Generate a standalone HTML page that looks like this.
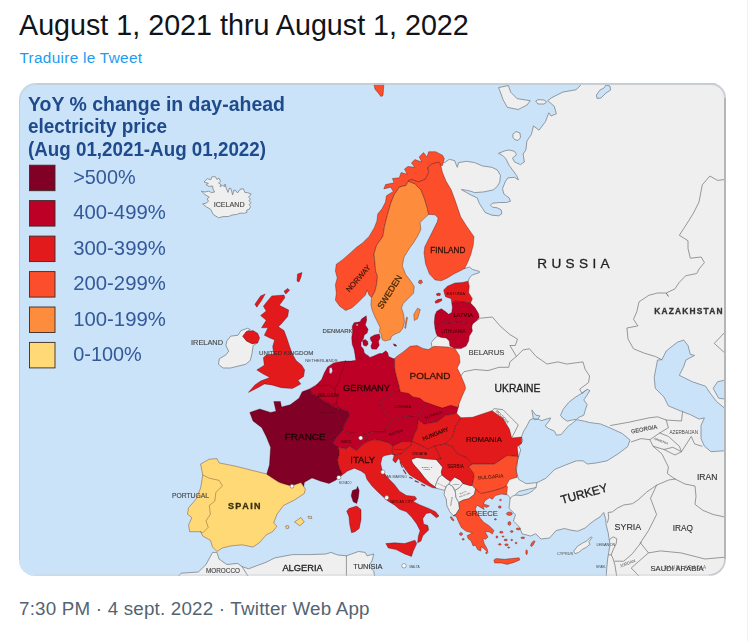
<!DOCTYPE html>
<html lang="fr"><head><meta charset="utf-8"><title>Tweet</title>
<style>
html,body{margin:0;padding:0;background:#fff;}
body{width:752px;height:641px;position:relative;overflow:hidden;font-family:"Liberation Sans",sans-serif;}
.title{position:absolute;left:19px;top:7px;font-size:28.7px;line-height:36px;color:#0f1419;white-space:nowrap;}
.tr{position:absolute;left:19.5px;top:47.8px;font-size:15.4px;line-height:20px;color:#1d9bf0;white-space:nowrap;letter-spacing:0.28px;}
.card{position:absolute;left:19px;top:83px;width:707px;height:492.5px;border-radius:17px 15px 17px 16px;overflow:hidden;background:#cae3f8;}
.card svg{position:absolute;left:0;top:0;display:block;}
.card svg .map{filter:blur(0.4px);}
.foot{position:absolute;left:19px;top:597px;font-size:18.8px;line-height:24px;color:#536471;white-space:nowrap;letter-spacing:0.2px;}
.vline{position:absolute;left:746.8px;top:0;width:1.4px;height:641px;background:#f0f1f2;}
svg text{font-family:"Liberation Sans",sans-serif;}

</style></head><body>
<div class="title">August 1, 2021 thru August 1, 2022</div>
<div class="tr">Traduire le Tweet</div>
<div class="vline"></div>
<div class="card">
<svg width="707" height="492.5" viewBox="19 83 707 492.5">
<rect x="19" y="83" width="707" height="493" fill="#cae3f8"/>
<g class="map">
<g fill="#efefef" stroke="#7c838a" stroke-width="0.8" stroke-linejoin="round">
<path d="M411.0 459.5 L416.7 457.4 L426.5 458.8 L436.3 459.5 L439.2 463.0 L442.7 467.2 L441.3 472.1 L442.0 475.0 L438.5 477.8 L436.3 483.4 L435.0 486.9 L430.0 483.4 L425.1 478.5 L420.2 472.1 L415.3 466.5 L412.5 463.0Z"/>
<path d="M436.3 483.4 L438.5 477.8 L442.0 475.0 L446.2 478.5 L450.4 481.3 L449.0 484.1 L446.2 486.2 L444.8 490.4 L439.2 489.0 L436.3 488.3 L435.0 486.9Z"/>
<path d="M444.8 490.4 L446.2 486.2 L449.0 484.1 L452.5 486.2 L455.3 491.8 L456.0 497.4 L458.8 502.5 L459.5 508.7 L456.0 514.3 L453.2 515.7 L449.7 511.5 L446.9 505.8 L446.2 498.8 L444.0 494.6Z"/>
<path d="M450.4 481.3 L454.6 477.0 L460.2 479.9 L463.0 483.4 L459.5 487.6 L455.3 490.4 L452.5 486.2 L449.0 484.1Z"/>
<path d="M455.3 490.4 L459.5 487.6 L463.0 483.4 L470.0 485.5 L472.2 485.5 L475.7 489.0 L474.3 494.6 L468.7 498.8 L463.0 500.2 L458.8 502.5 L456.0 497.4 L455.3 491.8Z"/>
<path d="M438.0 160.0 L444.7 162.6 L449.3 159.3 L454.6 160.6 L457.3 167.3 L458.6 162.6 L466.6 161.3 L474.6 162.6 L482.6 166.0 L491.9 167.3 L497.2 169.9 L500.5 175.3 L499.8 181.9 L497.2 186.6 L493.2 189.9 L483.9 191.9 L474.6 192.6 L470.6 191.2 L464.6 189.9 L461.3 189.6 L466.6 192.6 L471.3 195.2 L477.2 197.9 L479.2 203.2 L482.6 208.5 L485.2 212.5 L491.9 215.2 L498.5 215.8 L501.8 213.8 L501.2 209.8 L497.2 207.8 L492.5 207.2 L490.5 205.2 L492.5 203.2 L499.8 202.5 L506.5 202.5 L510.5 201.2 L509.1 197.9 L503.8 193.9 L502.5 188.6 L505.2 181.9 L507.8 177.9 L514.5 177.3 L518.5 179.9 L516.5 175.3 L512.5 169.9 L509.1 165.3 L505.8 158.6 L502.5 155.3 L498.5 153.3 L505.2 150.7 L509.1 150.0 L514.5 151.3 L516.5 154.7 L512.5 158.0 L514.5 162.0 L520.5 164.6 L524.4 162.0 L523.1 154.0 L525.9 149.9 L526.9 141.0 L531.3 134.6 L533.5 125.9 L539.0 130.2 L545.5 121.5 L548.8 112.8 L551.0 116.0 L556.4 113.8 L554.2 106.2 L547.7 100.7 L552.0 97.5 L563.0 92.0 L576.0 89.8 L580.4 85.5 L581.0 83.0 L727.0 83.0 L727.0 577.0 L606.2 577.0 L606.8 567.4 L607.5 559.9 L608.7 552.4 L610.0 544.9 L609.3 539.9 L608.1 532.5 L606.2 525.0 L605.6 518.7 L603.7 512.5 L600.0 516.9 L595.0 520.0 L590.0 523.7 L585.0 528.1 L577.5 531.2 L570.0 530.0 L564.5 528.5 L556.0 530.6 L549.6 538.0 L541.0 539.0 L535.7 533.8 L530.4 536.0 L522.0 533.8 L519.8 527.4 L513.4 521.0 L515.5 514.7 L509.0 508.3 L510.2 497.7 L507.6 494.8 L480.0 480.0 L440.0 420.0 L432.0 347.0 L431.2 342.8 L434.0 339.0 L437.5 336.1 L455.0 330.0 L468.2 281.5 L469.3 278.0 L472.4 274.9 L479.4 272.6 L479.4 271.4 L472.4 269.4 L469.3 267.0 L464.6 268.6 L450.0 250.0 L432.0 200.0Z"/>
<path d="M178.0 577.0 L181.0 573.2 L198.4 572.0 L206.0 564.5 L212.6 552.4 L217.0 552.4 L219.0 559.0 L226.8 564.5 L237.7 563.4 L242.0 566.6 L248.6 568.8 L257.3 565.5 L266.0 562.3 L274.8 557.9 L292.3 554.6 L309.7 554.6 L325.8 554.0 L330.9 552.4 L337.8 555.0 L346.4 555.8 L351.5 554.0 L358.4 551.5 L365.2 552.4 L367.0 555.8 L373.8 554.0 L372.0 561.0 L368.7 566.0 L373.8 571.3 L374.7 577.0Z"/>
<path d="M226.9 340.9 L230.6 336.2 L238.1 335.2 L240.9 330.6 L247.5 328.3 L250.3 329.6 L246.5 331.5 L242.8 336.2 L246.5 340.9 L252.1 343.7 L257.8 342.7 L253.1 345.5 L252.1 353.0 L250.3 360.5 L245.6 364.3 L238.1 366.1 L230.6 368.0 L223.1 368.0 L218.4 364.3 L219.4 358.7 L225.9 354.9 L228.7 351.2 L225.9 345.5Z"/>
<path d="M204.0 182.0 L207.3 178.6 L210.8 179.8 L211.8 176.9 L215.3 176.6 L216.8 179.4 L219.0 178.2 L220.6 181.3 L218.6 183.0 L221.0 184.6 L220.0 186.6 L222.5 185.4 L224.6 186.6 L225.0 184.0 L226.4 188.6 L228.0 192.4 L229.5 188.0 L231.0 188.6 L232.6 195.0 L234.0 190.0 L236.0 190.8 L237.5 193.0 L240.0 189.4 L243.2 188.6 L245.0 192.6 L247.2 192.6 L251.2 194.0 L248.5 197.2 L250.6 199.0 L248.8 200.6 L251.2 202.6 L249.0 204.6 L250.6 206.6 L249.2 209.2 L246.6 210.2 L247.0 212.4 L244.5 213.2 L240.0 213.2 L236.5 214.5 L232.0 215.0 L228.6 216.5 L223.0 216.6 L218.6 217.8 L213.3 214.5 L210.6 209.2 L206.5 207.0 L202.6 203.9 L206.0 203.2 L208.6 201.2 L207.0 199.0 L209.3 197.2 L205.0 194.6 L201.3 191.2 L205.0 192.0 L208.6 191.2 L211.6 192.6 L214.6 192.0 L213.0 189.0 L212.6 186.0 L209.0 186.4 L206.0 184.6 L208.4 183.4Z"/>
<path d="M498.6 87.6 L508.4 85.5 L510.6 92.0 L517.0 98.6 L530.2 100.7 L527.0 105.0 L518.2 109.5 L507.3 107.3 L503.0 99.6 L500.7 93.0Z"/>
<path d="M535.7 101.0 L538.0 99.6 L544.0 100.0 L546.6 102.0 L544.0 104.0 L538.0 104.0Z"/>
<path d="M513.0 134.0 L516.0 131.5 L520.0 133.0 L520.5 137.5 L518.0 140.5 L514.5 139.5 L512.8 137.0Z"/>
<path d="M573.7 551.2 L577.5 546.2 L582.5 543.1 L586.2 541.2 L591.2 536.8 L592.2 537.5 L588.7 541.8 L590.0 544.3 L586.2 547.4 L582.5 549.3 L578.7 552.4 L575.0 553.7Z"/>
</g>
<g fill="#cae3f8" stroke="#7a8794" stroke-width="0.8" stroke-linejoin="round">
<path d="M521.5 437.0 L523.3 431.9 L527.3 425.2 L529.9 419.9 L533.3 418.6 L534.6 419.9 L537.9 419.2 L541.9 420.6 L545.9 419.2 L550.6 417.9 L549.9 419.9 L545.2 425.9 L548.6 428.5 L554.5 431.2 L556.5 435.2 L561.2 434.5 L564.5 430.5 L568.5 425.9 L572.5 423.2 L576.5 419.9 L577.8 419.9 L584.5 421.2 L589.8 422.6 L600.4 423.9 L610.0 427.9 L622.3 433.5 L630.0 440.0 L627.7 446.6 L617.9 454.0 L607.0 460.8 L596.0 463.0 L587.3 464.0 L583.0 460.8 L576.4 460.8 L565.5 465.0 L554.6 469.5 L545.9 478.3 L537.0 482.6 L526.2 483.7 L518.6 479.3 L516.4 471.7 L517.5 460.8 L520.7 449.9 L518.6 445.5 L523.0 441.0Z"/>
<path d="M560.5 415.2 L563.2 409.3 L568.5 402.6 L575.2 397.3 L581.8 393.3 L587.1 389.3 L589.8 390.6 L586.5 396.0 L583.8 399.9 L587.1 404.6 L585.1 410.6 L583.8 415.2 L579.1 417.2 L576.5 419.4 L572.5 419.9 L567.2 421.2 L562.5 417.9Z"/>
<path d="M666.2 351.0 L677.2 342.3 L683.7 340.0 L688.0 345.5 L690.3 354.3 L694.6 355.4 L685.9 360.0 L683.7 366.6 L679.3 375.3 L692.4 381.8 L705.5 386.2 L709.9 392.8 L716.5 401.5 L727.0 410.2 L727.0 450.6 L711.0 451.7 L704.4 446.2 L701.0 438.6 L701.0 425.5 L704.4 417.9 L699.0 419.0 L690.3 414.6 L681.5 411.3 L668.4 405.9 L664.0 397.0 L655.3 388.4 L654.2 377.5 L657.5 360.0 L661.9 359.7Z"/>
<path d="M727.0 379.6 L717.5 381.8 L713.2 388.4 L718.6 398.2 L727.0 399.3Z"/>
<path d="M515.5 495.0 L518.5 491.6 L528.4 489.2 L536.0 487.5 L533.0 490.5 L528.4 493.5 L521.0 495.6Z"/>
<path d="M596.4 95.0 L600.0 90.0 L604.0 88.0 L606.0 85.0 L610.0 86.0 L610.6 90.0 L606.0 93.0 L601.0 98.0 L597.0 98.5Z"/>
<path d="M533.3 418.6 L531.9 409.9 L533.3 411.9 L535.9 415.2 L539.9 415.9 L537.9 419.2Z"/>
</g>
<g fill="none" stroke="#808080" stroke-width="0.8" stroke-linejoin="round" stroke-linecap="round">
<path d="M476.1 321.1 L480.4 318.2 L492.4 317.0 L500.0 325.9 L509.9 334.6 L517.5 339.0 L515.3 345.5 L509.9 345.5 L516.4 356.4 L509.9 361.9 L508.8 367.3 L499.0 367.3 L488.0 370.6 L475.0 369.5 L464.0 371.7 L460.7 376.0"/>
<path d="M516.4 356.4 L523.0 349.9 L529.5 348.8 L536.0 356.4 L547.0 364.0 L558.0 361.9 L566.6 364.0 L583.0 361.9 L585.2 369.5 L589.6 376.0 L588.5 382.6 L579.7 389.2 L582.0 393.5 L586.2 390.0"/>
<path d="M492.0 410.7 L494.2 408.6 L503.0 409.7 L511.7 418.4 L518.3 425.0 L513.9 433.7 L511.7 438.0"/>
<path d="M727.0 179.3 L717.5 180.4 L709.9 176.0 L702.3 184.8 L699.0 202.0 L693.5 213.0 L689.2 220.0 L683.7 228.7 L679.3 235.3 L688.0 240.7 L688.0 248.4 L690.3 258.2 L701.2 257.0 L704.4 262.6 L699.0 269.0 L696.8 273.5 L685.9 275.7 L679.3 282.2 L675.0 288.8 L666.2 293.0 L668.4 296.4 L666.2 293.0 L657.5 293.0 L648.8 295.3 L639.0 301.9 L636.8 311.7 L633.5 319.3 L637.9 325.9 L626.9 328.0 L628.0 339.0 L633.5 348.8 L644.4 353.2 L655.3 356.5 L661.9 359.7"/>
<path d="M727.0 330.0 L714.3 343.4 L727.0 355.0"/>
<path d="M610.5 425.5 L629.0 422.2 L648.8 417.9 L657.5 416.8 L666.2 420.0 L681.5 421.0 L682.6 411.3"/>
<path d="M631.3 441.9 L641.0 438.6 L649.9 439.7 L659.7 433.0 L668.4 427.7 L666.2 420.0"/>
<path d="M649.9 439.7 L653.0 446.2 L664.0 449.5 L672.8 447.3 L681.5 451.7 L679.3 446.2 L668.4 436.4 L659.7 433.0"/>
<path d="M681.5 451.7 L691.3 436.4 L694.6 444.0 L702.0 446.2"/>
<path d="M664.0 449.5 L675.0 455.0 L681.5 451.7"/>
<path d="M653.0 446.2 L661.9 453.9 L668.4 467.0 L667.3 473.5 L675.0 479.0"/>
<path d="M675.0 479.0 L685.0 484.0 L695.0 486.0 L696.0 496.3 L695.0 504.4 L703.0 510.4 L713.2 514.5 L727.0 517.5"/>
<path d="M607.5 522.5 L608.7 517.5 L608.1 512.5 L612.4 511.9 L617.4 508.1 L623.7 505.0 L632.4 503.7 L638.0 500.0 L646.5 492.2 L656.6 485.2 L668.7 480.0 L675.0 479.0"/>
<path d="M656.6 485.2 L650.5 498.3 L656.6 514.5 L648.5 530.6 L640.4 542.8"/>
<path d="M640.4 542.8 L648.5 552.9 L660.6 550.9 L680.9 552.9 L705.0 559.0 L727.0 557.0"/>
<path d="M641.2 542.4 L632.4 553.7 L623.7 561.2 L614.9 561.2"/>
<path d="M648.5 552.9 L631.2 568.0 L639.9 577.0"/>
<path d="M609.3 539.9 L613.1 536.8 L616.8 538.7 L616.2 543.7 L613.1 549.9 L611.2 554.9 L608.7 554.9"/>
<path d="M611.2 554.9 L613.1 558.7 L614.9 564.9 L616.8 577.0"/>
<path d="M242.0 566.6 L248.6 577.0"/>
<path d="M346.4 555.8 L346.4 577.0"/>
<path d="M536.0 487.5 L537.0 482.6"/>
<path d="M509.8 498.6 L512.5 496.2 L515.5 495.0"/>
</g>
<g stroke="#3a0008" stroke-opacity="0.55" stroke-width="0.6" stroke-linejoin="round">
<path fill="#fc4e2a" d="M444.3 158.6 L442.5 165.6 L440.8 165.6 L439.1 162.1 L432.2 163.8 L427.8 167.3 L428.7 172.5 L425.3 179.4 L418.3 182.0 L411.4 179.4 L408.0 181.1 L406.2 185.4 L399.3 187.2 L394.1 194.9 L390.7 203.6 L387.2 215.7 L384.6 226.1 L382.9 236.4 L376.6 245.3 L374.0 253.9 L374.9 262.4 L375.7 271.0 L377.5 276.2 L376.6 284.7 L374.9 291.6 L371.5 297.6 L368.9 295.0 L367.2 289.9 L365.5 295.0 L362.0 298.5 L356.9 303.6 L351.7 307.9 L345.7 310.5 L339.7 306.2 L335.4 300.2 L336.3 293.3 L335.4 284.7 L337.2 277.9 L335.4 271.0 L336.3 264.2 L342.3 259.9 L349.2 253.9 L356.9 247.0 L362.2 243.3 L369.1 236.4 L374.3 227.8 L376.9 220.9 L377.7 214.0 L382.0 208.8 L385.5 201.9 L386.4 195.8 L393.3 191.5 L390.7 187.2 L383.8 188.9 L385.5 184.6 L394.1 182.8 L392.4 178.5 L399.3 177.7 L401.1 172.5 L407.1 174.2 L404.5 169.0 L408.0 166.4 L414.9 167.3 L411.4 163.0 L414.9 159.5 L421.8 162.1 L419.2 156.9 L423.5 152.6 L427.0 156.9 L428.7 151.7 L435.6 151.7 L442.5 155.2Z"/>
<path fill="#fd8d3c" d="M408.0 181.1 L414.9 183.7 L420.9 189.8 L424.4 198.4 L427.0 207.0 L428.7 214.4 L423.5 219.1 L420.1 222.6 L420.9 229.5 L417.5 236.4 L413.2 243.3 L409.2 248.7 L404.0 257.3 L402.3 265.9 L405.7 274.5 L410.9 281.3 L414.3 286.5 L413.5 293.3 L407.5 299.3 L403.2 303.6 L401.5 307.8 L403.6 314.4 L404.5 321.8 L402.7 328.4 L399.9 332.1 L395.2 334.0 L391.5 336.3 L390.5 339.6 L384.9 341.0 L382.1 339.6 L381.2 334.0 L379.3 332.1 L380.2 327.5 L377.4 321.8 L374.6 316.2 L372.3 310.6 L370.9 305.0 L371.5 297.6 L374.9 291.6 L376.6 284.7 L377.5 276.2 L375.7 271.0 L374.9 262.4 L374.0 253.9 L376.6 245.3 L382.9 236.4 L384.6 226.1 L387.2 215.7 L390.7 203.6 L394.1 194.9 L399.3 187.2 L406.2 185.4Z"/>
<path fill="#fd8d3c" d="M417.5 308.2 L420.3 309.6 L417.5 318.8 L414.3 320.5 L413.8 314.4Z"/>
<path fill="#fd8d3c" d="M406.5 317.0 L407.5 317.6 L405.6 328.4 L404.7 328.0Z"/>
<path fill="#fc4e2a" d="M373.4 82.0 L384.0 82.0 L383.5 89.7 L383.0 95.5 L380.9 96.6 L378.2 92.9 L375.0 89.2Z"/>
<path fill="#fc4e2a" d="M408.0 181.1 L411.4 179.4 L418.3 182.0 L425.3 179.4 L428.7 172.5 L427.8 167.3 L432.2 163.8 L439.1 162.1 L440.8 165.6 L442.5 172.5 L446.0 181.1 L451.2 189.8 L455.0 200.0 L460.7 216.8 L466.2 225.5 L474.0 236.7 L473.2 245.2 L470.8 254.6 L467.7 262.4 L464.6 268.6 L459.9 271.0 L453.7 274.1 L447.4 278.0 L441.2 280.8 L435.0 279.9 L429.5 274.1 L425.6 264.0 L424.0 253.0 L424.8 246.8 L428.7 239.0 L433.4 229.6 L437.3 221.8 L438.1 217.9 L435.0 214.8 L428.7 214.4 L427.0 207.0 L424.4 198.4 L420.9 189.8 L414.9 183.7Z"/>
<path fill="#fc4e2a" d="M419.0 280.5 L421.5 280.0 L422.5 282.5 L420.5 284.0 L418.5 283.0Z"/>
<path fill="#e31a1c" d="M443.7 290.0 L447.4 286.2 L454.9 283.1 L462.4 282.5 L468.0 281.2 L469.3 286.2 L468.6 292.5 L472.4 298.7 L470.5 303.1 L462.4 301.8 L455.5 301.2 L451.8 303.1 L451.2 298.7 L445.6 296.8 L444.3 293.1Z"/>
<path fill="#e31a1c" d="M435.0 301.5 L437.5 299.6 L441.8 298.8 L441.6 300.8 L438.5 302.6 L435.6 303.2Z"/>
<path fill="#e31a1c" d="M436.2 294.0 L438.5 293.0 L440.6 293.8 L440.0 295.6 L437.0 295.6Z"/>
<path fill="#bd0026" d="M451.8 303.1 L452.4 307.4 L451.8 312.4 L448.7 314.3 L445.0 311.2 L441.2 308.7 L436.8 311.2 L435.0 314.9 L434.4 321.1 L434.4 323.0 L437.5 324.3 L443.7 322.4 L449.9 323.0 L458.7 321.8 L466.1 323.0 L472.4 324.3 L476.1 321.1 L479.2 317.4 L478.6 313.7 L474.9 307.4 L470.5 303.1 L462.4 301.8 L455.5 301.2Z"/>
<path fill="#bd0026" d="M434.4 323.0 L437.5 324.3 L443.7 322.4 L449.9 323.0 L458.7 321.8 L466.1 323.0 L472.4 324.3 L471.8 327.4 L472.4 331.1 L469.3 336.1 L468.6 341.1 L466.1 346.1 L461.2 348.6 L454.9 348.6 L449.9 346.1 L449.3 341.1 L446.2 338.0 L441.2 337.4 L437.5 336.1 L436.2 333.6 L435.0 328.6Z"/>
<path fill="#bd0026" d="M355.4 357.4 L355.0 354.6 L354.0 349.0 L352.2 344.3 L351.7 337.7 L352.6 332.1 L352.2 326.5 L354.0 322.8 L360.1 321.8 L361.5 319.0 L366.2 315.8 L366.7 320.0 L365.3 325.1 L368.1 329.3 L367.1 333.1 L364.3 334.9 L363.4 338.7 L361.0 342.4 L361.0 346.2 L363.4 349.0 L364.3 352.7 L366.5 355.0 L362.0 358.0Z"/>
<path fill="#bd0026" d="M362.5 340.5 L365.3 339.6 L367.6 341.5 L368.1 344.3 L366.2 346.2 L363.4 345.2Z"/>
<path fill="#bd0026" d="M370.4 337.3 L374.6 334.9 L379.3 334.0 L380.2 337.7 L378.4 341.5 L379.3 345.2 L376.5 349.2 L371.8 349.0 L370.9 346.2 L372.3 342.4 L370.4 339.6Z"/>
<path fill="#bd0026" d="M393.3 343.8 L396.1 344.8 L396.6 346.2 L394.3 345.9Z"/>
<path fill="#e31a1c" d="M271.8 295.9 L284.0 295.0 L284.9 297.8 L279.3 305.3 L288.7 310.0 L287.7 316.5 L281.2 324.0 L278.4 326.8 L284.0 330.6 L286.8 338.0 L289.6 346.5 L292.4 354.0 L296.1 360.5 L301.8 365.2 L304.6 369.9 L303.6 376.4 L298.0 380.2 L300.8 384.0 L292.4 388.6 L281.2 387.7 L271.8 384.9 L264.3 383.9 L257.8 387.7 L248.4 392.4 L254.9 384.9 L260.6 381.1 L269.9 377.4 L262.4 373.6 L256.8 369.9 L264.3 365.2 L263.4 357.7 L266.2 354.9 L273.7 354.0 L272.7 346.5 L274.6 339.9 L269.9 338.0 L264.3 335.2 L268.0 327.8 L261.5 327.8 L266.2 320.3 L260.6 315.6 L266.2 310.9 L263.4 306.2 L267.1 301.5Z"/>
<path fill="#e31a1c" d="M242.8 336.2 L246.5 331.5 L253.1 330.6 L257.8 333.4 L259.6 338.0 L257.8 342.7 L252.1 343.7 L246.5 340.9Z"/>
<path fill="#e31a1c" d="M254.9 304.3 L260.6 295.9 L265.2 294.0 L261.5 300.6 L256.8 307.2Z"/>
<path fill="#e31a1c" d="M284.0 291.2 L287.7 288.4 L289.6 290.3 L285.8 294.0Z"/>
<path fill="#e31a1c" d="M297.5 274.0 L302.0 272.5 L301.0 277.0 L299.0 282.0 L297.0 281.0Z"/>
<path fill="#bd0026" d="M309.6 388.9 L316.3 384.9 L321.6 379.6 L324.3 372.9 L327.6 366.9 L333.6 363.0 L341.5 361.6 L345.6 361.1 L351.2 361.1 L355.9 360.2 L355.4 357.4 L362.0 358.0 L366.5 355.0 L368.1 355.5 L369.9 357.4 L373.7 356.0 L379.3 353.6 L382.1 353.6 L385.8 350.8 L387.7 352.7 L388.6 356.4 L392.4 358.3 L394.5 358.8 L394.7 361.0 L394.7 368.1 L396.1 375.1 L398.9 384.9 L400.3 392.0 L393.3 392.6 L380.2 401.3 L381.3 406.8 L384.6 412.2 L393.3 419.9 L386.8 425.3 L385.7 431.9 L373.7 431.9 L365.0 434.0 L360.2 433.6 L350.3 433.0 L342.3 431.0 L345.0 423.0 L349.5 415.5 L348.2 411.5 L340.2 408.8 L334.2 407.5 L329.6 403.5 L323.6 400.9 L318.9 396.2 L312.3 394.2Z"/>
<path fill="#800026" d="M302.2 391.7 L309.6 388.9 L312.3 394.2 L318.9 396.2 L323.6 400.9 L329.6 403.5 L334.2 407.5 L340.2 408.8 L348.2 411.5 L349.5 415.5 L345.0 423.0 L342.3 431.0 L337.0 437.6 L333.0 443.0 L338.3 447.0 L339.6 453.6 L337.6 460.2 L339.6 468.2 L342.3 473.5 L339.0 477.5 L335.6 480.2 L329.0 483.5 L320.8 481.2 L312.0 477.9 L304.4 482.3 L303.3 488.8 L292.4 487.7 L279.3 482.3 L266.2 475.7 L269.5 464.8 L270.6 447.3 L266.2 436.4 L261.8 427.7 L253.0 421.0 L249.8 412.4 L259.7 409.0 L270.6 412.4 L276.0 411.3 L273.8 401.5 L280.4 401.5 L281.5 407.0 L290.2 404.8 L299.0 398.2Z"/>
<path fill="#800026" d="M357.5 486.3 L359.2 490.6 L358.4 497.5 L356.7 503.5 L353.2 501.8 L351.2 495.8 L352.4 490.6 L356.7 488.9Z"/>
<path fill="#bd0026" d="M342.3 431.0 L350.3 433.0 L360.2 433.6 L365.0 434.0 L366.2 436.3 L367.6 441.6 L362.2 445.0 L357.0 450.2 L353.6 449.0 L349.6 446.2 L346.3 449.0 L339.6 447.6 L338.3 447.0 L333.0 443.0 L337.0 437.6Z"/>
<path fill="#bd0026" d="M366.2 436.3 L365.0 434.0 L373.7 431.9 L385.7 431.9 L386.8 425.3 L393.3 419.9 L404.2 416.6 L417.3 415.5 L418.4 419.9 L417.3 428.6 L414.0 435.0 L411.9 441.7 L402.0 441.7 L392.8 446.2 L388.8 443.0 L382.2 441.0 L374.2 439.6 L367.6 441.6Z"/>
<path fill="#bd0026" d="M380.2 401.3 L393.3 392.6 L400.3 390.0 L408.7 391.0 L413.0 394.0 L421.7 396.0 L428.4 401.0 L421.7 411.0 L417.3 415.5 L404.2 416.6 L393.3 419.9 L384.6 412.2 L381.3 406.8Z"/>
<path fill="#bd0026" d="M428.4 401.0 L434.8 402.0 L443.5 405.0 L452.3 403.0 L458.8 405.5 L456.6 413.3 L445.7 415.5 L437.0 422.0 L423.9 424.2 L418.4 419.9 L417.3 415.5 L421.7 411.0Z"/>
<path fill="#e31a1c" d="M418.4 419.9 L423.9 424.2 L437.0 422.0 L445.7 415.5 L456.6 413.3 L461.0 417.7 L455.5 426.4 L452.3 437.3 L445.7 443.9 L434.8 446.0 L428.3 449.3 L417.3 443.9 L411.9 441.7 L414.0 435.0 L417.3 428.6Z"/>
<path fill="#e31a1c" d="M392.8 446.2 L402.0 441.7 L411.9 441.7 L410.8 446.0 L405.3 449.3 L402.0 453.7 L394.2 455.0 L391.5 451.0Z"/>
<path fill="#e31a1c" d="M411.9 441.7 L417.3 443.9 L428.3 449.3 L434.8 446.0 L438.0 452.6 L441.4 459.0 L436.3 459.5 L426.5 458.8 L416.7 457.4 L411.0 459.5 L412.5 463.0 L415.3 466.5 L420.2 472.1 L425.1 478.5 L430.0 483.4 L435.0 486.9 L436.3 488.3 L432.1 487.6 L425.1 484.1 L416.7 479.2 L409.7 475.0 L403.3 466.5 L398.4 458.1 L398.1 458.9 L395.5 462.9 L392.8 460.2 L394.2 455.0 L402.0 453.7 L405.3 449.3 L410.8 446.0Z"/>
<path fill="#e31a1c" d="M434.8 446.0 L445.7 443.9 L452.5 446.5 L457.0 453.3 L467.0 457.7 L472.4 464.2 L468.5 466.4 L473.5 473.0 L474.0 477.0 L472.2 485.5 L470.0 485.5 L463.0 483.4 L460.2 479.9 L454.6 477.0 L450.4 481.3 L446.2 478.5 L442.0 475.0 L441.3 472.1 L442.7 467.2 L439.2 463.0 L436.3 459.5 L441.4 459.0 L438.0 452.6Z"/>
<path fill="#e31a1c" d="M461.0 417.7 L472.4 417.3 L492.0 410.7 L503.0 418.4 L509.5 429.3 L511.7 438.0 L521.5 437.0 L521.5 443.5 L517.2 446.8 L518.3 456.6 L507.3 455.5 L494.2 464.2 L472.4 464.2 L467.0 457.7 L457.0 453.3 L452.5 446.5 L445.7 443.9 L452.3 437.3 L455.5 426.4Z"/>
<path fill="#fc4e2a" d="M472.4 464.2 L494.2 464.2 L507.3 455.5 L518.3 456.6 L516.0 468.6 L517.2 477.3 L509.5 479.5 L505.4 487.0 L494.5 490.5 L481.0 493.7 L475.7 489.0 L472.2 485.5 L474.0 477.0 L473.5 473.0 L468.5 466.4Z"/>
<path fill="#fc4e2a" d="M453.2 515.7 L456.0 514.3 L459.5 508.7 L458.8 502.5 L463.0 500.2 L468.7 498.8 L474.3 494.6 L475.7 489.0 L481.0 493.7 L494.5 490.5 L505.4 487.0 L506.0 485.6 L507.5 486.7 L506.5 494.8 L501.3 494.1 L495.4 495.6 L492.4 499.3 L489.4 497.8 L485.0 500.7 L483.5 503.7 L489.4 505.9 L486.5 507.4 L482.8 505.9 L484.3 509.6 L480.6 507.4 L476.9 505.2 L475.4 508.9 L476.9 513.3 L480.6 518.5 L483.5 522.0 L489.4 525.9 L493.9 530.4 L492.4 534.1 L489.4 531.9 L485.0 531.6 L488.0 537.0 L485.7 539.3 L482.8 538.5 L484.3 543.7 L487.2 548.9 L488.0 552.6 L484.3 548.9 L481.3 546.7 L480.6 551.1 L477.6 549.6 L475.4 545.2 L473.1 545.9 L470.9 540.7 L468.0 538.5 L467.2 535.6 L472.5 533.0 L465.7 531.1 L461.3 527.4 L459.1 523.0 L456.1 516.3Z"/>
<path fill="#fc4e2a" d="M493.9 560.0 L496.1 558.5 L504.3 559.3 L511.7 558.5 L519.1 557.8 L519.8 560.0 L514.6 562.2 L507.2 564.4 L501.3 563.0 L494.6 563.0Z"/>
<path fill="#fc4e2a" d="M394.5 358.8 L396.1 356.9 L403.1 351.9 L410.1 346.3 L417.1 345.6 L422.8 348.4 L428.4 349.6 L434.0 346.3 L448.0 347.0 L455.0 348.7 L459.3 355.4 L460.0 362.5 L457.2 368.1 L460.7 375.1 L464.9 384.9 L465.6 388.5 L462.1 396.2 L459.3 403.2 L457.9 407.4 L450.8 405.3 L442.4 408.1 L434.0 405.3 L428.4 403.2 L424.2 401.8 L419.9 398.3 L412.9 396.9 L408.7 393.4 L400.3 392.0 L398.9 384.9 L396.1 375.1 L394.7 368.1 L394.7 361.0Z"/>
<path fill="#e31a1c" d="M339.0 477.5 L342.3 473.5 L339.6 468.2 L337.6 460.2 L339.6 453.6 L338.3 447.0 L339.6 447.6 L346.3 449.0 L349.6 446.2 L353.6 449.0 L357.0 450.2 L362.2 445.0 L367.6 441.6 L374.2 439.6 L382.2 441.0 L388.8 443.0 L392.8 446.2 L391.5 451.0 L394.2 455.0 L391.5 454.2 L385.0 455.5 L382.3 456.9 L380.6 463.7 L382.3 470.6 L387.5 477.5 L394.4 484.4 L399.5 491.2 L406.4 495.5 L415.0 496.4 L416.7 499.0 L413.2 501.5 L420.1 505.0 L428.7 508.4 L435.6 511.8 L439.0 516.1 L436.4 517.8 L430.4 512.7 L426.1 513.6 L422.7 518.7 L423.6 523.9 L427.8 525.6 L428.7 529.9 L425.3 533.3 L422.7 535.9 L421.0 541.0 L417.6 542.8 L418.4 535.9 L420.1 530.7 L416.7 523.9 L411.5 517.0 L406.4 511.8 L399.5 509.3 L394.4 505.0 L387.5 500.7 L378.9 492.9 L372.0 486.1 L366.9 479.2 L365.2 474.0 L360.9 470.9 L354.3 468.2 L347.6 470.9Z"/>
<path fill="#e31a1c" d="M385.8 543.6 L394.4 542.8 L404.7 543.6 L415.0 540.2 L416.7 543.6 L413.2 551.3 L411.5 556.5 L404.7 553.9 L396.1 549.6 L388.3 547.9Z"/>
<path fill="#e31a1c" d="M348.9 508.6 L356.7 506.0 L361.0 509.5 L361.0 519.8 L359.2 528.4 L355.0 531.8 L351.5 532.7 L349.8 524.9 L348.9 516.4 L346.7 511.2Z"/>
<path fill="#fed976" d="M200.6 464.0 L209.3 459.2 L216.9 458.6 L219.1 462.9 L235.5 466.2 L253.0 470.6 L266.0 473.8 L279.2 482.6 L291.2 485.9 L301.0 482.6 L305.4 489.1 L304.3 493.5 L294.5 500.0 L283.5 505.5 L277.0 514.2 L273.7 523.0 L277.0 526.2 L272.6 531.7 L266.0 535.0 L259.5 542.6 L253.0 547.0 L242.0 544.8 L231.0 545.9 L222.4 548.0 L216.9 551.4 L212.6 547.0 L210.4 540.4 L202.8 536.0 L200.6 531.7 L189.7 531.7 L188.6 525.0 L191.8 517.5 L187.5 514.2 L188.6 507.7 L196.2 499.0 L200.6 488.0 L202.8 475.0Z"/>
<path fill="#fed976" d="M294.5 521.9 L301.0 517.5 L304.3 521.9 L299.9 525.8Z"/>
<path fill="#fed976" d="M308.0 516.3 L311.5 516.5 L311.8 518.5 L308.5 518.3Z"/>
<path fill="#fed976" d="M285.5 526.0 L288.3 525.5 L289.0 528.0 L286.5 528.8Z"/>
<path fill="#fc4e2a" d="M512.4 513.7 L511.5 515.0 L509.4 515.5 L507.3 515.0 L506.4 513.7 L507.3 512.4 L509.4 511.9 L511.5 512.4Z"/>
<path fill="#fc4e2a" d="M510.9 523.4 L510.5 524.8 L509.4 525.4 L508.3 524.8 L507.9 523.4 L508.3 522.0 L509.4 521.4 L510.5 522.0Z"/>
<path fill="#fc4e2a" d="M520.5 528.9 L519.9 529.6 L518.3 529.9 L516.7 529.6 L516.1 528.9 L516.7 528.2 L518.3 527.9 L519.9 528.2Z"/>
<path fill="#fc4e2a" d="M501.3 507.0 L500.9 507.8 L499.8 508.2 L498.7 507.8 L498.3 507.0 L498.7 506.2 L499.8 505.8 L500.9 506.2Z"/>
<path fill="#fc4e2a" d="M501.5 500.0 L501.2 500.6 L500.5 500.8 L499.8 500.6 L499.5 500.0 L499.8 499.4 L500.5 499.2 L501.2 499.4Z"/>
<path fill="#fc4e2a" d="M496.4 519.3 L496.1 519.9 L495.4 520.1 L494.7 519.9 L494.4 519.3 L494.7 518.7 L495.4 518.5 L496.1 518.7Z"/>
<path fill="#fc4e2a" d="M524.8 537.8 L524.2 538.4 L522.8 538.7 L521.4 538.4 L520.8 537.8 L521.4 537.2 L522.8 536.9 L524.2 537.2Z"/>
<path fill="#fc4e2a" d="M530.5 545.8 L531.5 543.0 L534.0 540.5 L535.0 541.5 L533.5 544.5 L531.8 546.5Z"/>
<path fill="#fc4e2a" d="M527.4 552.2 L527.2 554.0 L526.6 554.7 L526.0 554.0 L525.8 552.2 L526.0 550.4 L526.6 549.7 L527.2 550.4Z"/>
<path fill="#fc4e2a" d="M503.1 532.2 L502.6 532.9 L501.3 533.2 L500.0 532.9 L499.5 532.2 L500.0 531.5 L501.3 531.2 L502.6 531.5Z"/>
<path fill="#fc4e2a" d="M507.6 540.0 L507.0 540.6 L505.7 540.9 L504.4 540.6 L503.8 540.0 L504.4 539.4 L505.7 539.1 L507.0 539.4Z"/>
<path fill="#fc4e2a" d="M501.2 544.4 L500.8 545.0 L499.8 545.2 L498.8 545.0 L498.4 544.4 L498.8 543.8 L499.8 543.6 L500.8 543.8Z"/>
<path fill="#fc4e2a" d="M513.1 531.5 L512.7 532.2 L511.7 532.5 L510.7 532.2 L510.3 531.5 L510.7 530.8 L511.7 530.5 L512.7 530.8Z"/>
<path fill="#fc4e2a" d="M508.3 544.8 L507.8 545.5 L506.5 545.8 L505.2 545.5 L504.7 544.8 L505.2 544.1 L506.5 543.8 L507.8 544.1Z"/>
<path fill="#fc4e2a" d="M512.7 540.0 L512.4 540.6 L511.7 540.8 L511.0 540.6 L510.7 540.0 L511.0 539.4 L511.7 539.2 L512.4 539.4Z"/>
<path fill="#fc4e2a" d="M517.1 543.0 L516.8 543.6 L516.1 543.8 L515.4 543.6 L515.1 543.0 L515.4 542.4 L516.1 542.2 L516.8 542.4Z"/>
<path fill="#fc4e2a" d="M497.9 537.0 L497.6 537.8 L496.9 538.2 L496.2 537.8 L495.9 537.0 L496.2 536.2 L496.9 535.8 L497.6 536.2Z"/>
<path fill="#fc4e2a" d="M509.7 547.5 L509.4 548.0 L508.7 548.2 L508.0 548.0 L507.7 547.5 L508.0 547.0 L508.7 546.8 L509.4 547.0Z"/>
<path fill="#fc4e2a" d="M503.9 536.5 L503.6 537.0 L503.0 537.2 L502.4 537.0 L502.1 536.5 L502.4 536.0 L503.0 535.8 L503.6 536.0Z"/>
<path fill="#fc4e2a" d="M450.2 517.0 L451.5 516.8 L454.0 520.0 L453.5 521.0 L451.5 519.5Z"/>
<path fill="#fc4e2a" d="M462.6 534.0 L462.1 535.1 L461.0 535.5 L459.9 535.1 L459.4 534.0 L459.9 532.9 L461.0 532.5 L462.1 532.9Z"/>
<path fill="#fc4e2a" d="M464.3 539.3 L464.0 539.9 L463.2 540.1 L462.4 539.9 L462.1 539.3 L462.4 538.7 L463.2 538.5 L464.0 538.7Z"/>
<path fill="#fc4e2a" d="M487.4 552.9 L487.1 553.5 L486.5 553.7 L485.9 553.5 L485.6 552.9 L485.9 552.3 L486.5 552.1 L487.1 552.3Z"/>
<path fill="#e31a1c" d="M399.8 461.8 L400.5 462.0 L402.6 467.4 L402.0 467.6Z"/>
<path fill="#e31a1c" d="M403.0 469.8 L403.7 469.8 L406.2 473.6 L405.6 474.0Z"/>
<path fill="#e31a1c" d="M409.4 477.0 L412.4 478.2 L412.2 478.8 L409.2 477.6Z"/>
<path fill="#e31a1c" d="M415.0 480.6 L418.6 482.0 L418.4 482.6 L414.8 481.2Z"/>
<path fill="#e31a1c" d="M421.4 484.2 L425.0 485.6 L424.8 486.2 L421.2 484.8Z"/>
</g>
<g fill="#efefef" stroke="#8a8f94" stroke-width="0.7" stroke-linejoin="round">
</g>
<path fill="#cae3f8" stroke="#5a0010" stroke-opacity="0.4" stroke-width="0.4" d="M329.5 368.0 L331.6 367.4 L332.6 371.0 L331.0 374.0 L329.3 372.4Z"/>
<g fill="none" stroke="#3a0008" stroke-opacity="0.5" stroke-width="0.6" stroke-linejoin="round" stroke-linecap="round">
<path d="M202.8 475.0 L209.3 478.2 L219.1 480.4 L222.4 485.9 L215.9 492.4 L214.8 501.0 L209.3 505.5 L210.4 514.2 L206.0 520.8 L208.2 527.3 L202.8 532.8 L200.6 531.7"/>
<path d="M345.5 360.3 L343.5 367.6 L340.2 375.6 L338.9 382.2 L334.9 387.6 L334.9 392.9"/>
<path d="M316.3 384.9 L321.6 386.2 L329.6 384.9 L334.2 388.9"/>
<path d="M334.9 392.9 L337.6 398.2 L336.2 403.5 L340.2 408.8"/>
<path d="M336.2 403.5 L333.5 404.5 L334.2 407.5"/>
</g>
<circle cx="357.1" cy="324.9" r="0.9" fill="#fff" stroke="#555" stroke-width="0.5"/>
<circle cx="360.7" cy="438" r="2.1" fill="#fff" stroke="#555" stroke-width="0.5"/>
<circle cx="338.8" cy="477.5" r="2.1" fill="#fff" stroke="#555" stroke-width="0.5"/>
<circle cx="292" cy="486.2" r="1.9" fill="#fff" stroke="#555" stroke-width="0.5"/>
<circle cx="382.8" cy="472.1" r="2.1" fill="#fff" stroke="#555" stroke-width="0.5"/>
<circle cx="386.7" cy="497.7" r="2.1" fill="#fff" stroke="#555" stroke-width="0.5"/>
<circle cx="404" cy="565.8" r="2.2" fill="#fff" stroke="#555" stroke-width="0.5"/>
<text x="213.7" y="206.6" font-size="7.15" fill="#4a4a4a" stroke="#4a4a4a" stroke-width="0.15" textLength="31" lengthAdjust="spacingAndGlyphs">ICELAND</text>
<text x="349.5" y="292.5" font-size="7.55" fill="#3a1208" transform="rotate(-49 349.5 292.5)" stroke="#3a1208" stroke-width="0.15" textLength="33" lengthAdjust="spacingAndGlyphs">NORWAY</text>
<text x="382" y="309.5" font-size="8.66" fill="#4a2a08" transform="rotate(-57.6 382 309.5)" stroke="#4a2a08" stroke-width="0.3" textLength="38" lengthAdjust="spacingAndGlyphs">SWEDEN</text>
<text x="430.3" y="252.8" font-size="8.18" fill="#3a1208" stroke="#3a1208" stroke-width="0.3" textLength="35" lengthAdjust="spacingAndGlyphs">FINLAND</text>
<text x="446.6" y="294.8" font-size="4.23" fill="#400" textLength="18.5" lengthAdjust="spacingAndGlyphs">ESTONIA</text>
<text x="453.4" y="317" font-size="5.78" fill="#300" stroke="#300" stroke-width="0.15" textLength="19.5" lengthAdjust="spacingAndGlyphs">LATVIA</text>
<text x="441.2" y="332.8" font-size="4.69" fill="#300" textLength="24.5" lengthAdjust="spacingAndGlyphs">LITHUANIA</text>
<text x="322.6" y="332.6" font-size="6.0" fill="#4a4a4a" stroke="#4a4a4a" stroke-width="0.15" textLength="30" lengthAdjust="spacingAndGlyphs">DENMARK</text>
<text x="191" y="345.3" font-size="7.38" fill="#4a4a4a" stroke="#4a4a4a" stroke-width="0.15" textLength="32" lengthAdjust="spacingAndGlyphs">IRELAND</text>
<text x="259" y="354.8" font-size="6.21" fill="#2e2a2a" opacity="0.8" stroke="#2e2a2a" stroke-width="0.15" textLength="54.5" lengthAdjust="spacingAndGlyphs">UNITED KINGDOM</text>
<text x="305.2" y="362.4" font-size="4.35" fill="#4a4a4a" textLength="32.4" lengthAdjust="spacingAndGlyphs">NETHERLANDS</text>
<text x="318.3" y="397.2" font-size="4.55" fill="#300" textLength="20.5" lengthAdjust="spacingAndGlyphs">BELGIUM</text>
<text x="320" y="413.3" font-size="2.11" fill="#300" opacity="0.7" textLength="15" lengthAdjust="spacingAndGlyphs">LUXEMBOURG</text>
<text x="343" y="390.6" font-size="9.3" fill="#2a0006" stroke="#2a0006" stroke-width="0.3" textLength="47" lengthAdjust="spacingAndGlyphs">GERMANY</text>
<text x="409.5" y="379" font-size="9.97" fill="#3a1208" stroke="#3a1208" stroke-width="0.3" textLength="41" lengthAdjust="spacingAndGlyphs">POLAND</text>
<text x="468.4" y="354.8" font-size="7.71" fill="#4a4a4a" stroke="#4a4a4a" stroke-width="0.15" textLength="36" lengthAdjust="spacingAndGlyphs">BELARUS</text>
<text x="494.6" y="391.8" font-size="10.3" fill="#222" stroke="#222" stroke-width="0.3" textLength="45.8" lengthAdjust="spacingAndGlyphs">UKRAINE</text>
<text x="537.2" y="268.3" font-size="13.6" fill="#222" stroke="#222" stroke-width="0.3" textLength="72.5" lengthAdjust="spacing">RUSSIA</text>
<text x="654.2" y="314" font-size="8.4" fill="#333" font-weight="bold" stroke="#333" stroke-width="0.3" textLength="68.4" lengthAdjust="spacing">KAZAKHSTAN</text>
<text x="284.8" y="440.4" font-size="9.92" fill="#1e0006" stroke="#1e0006" stroke-width="0.3" textLength="40.8" lengthAdjust="spacingAndGlyphs">FRANCE</text>
<text x="350.3" y="462.6" font-size="9.35" fill="#2a0404" stroke="#2a0404" stroke-width="0.3" textLength="24.6" lengthAdjust="spacingAndGlyphs">ITALY</text>
<text x="227.9" y="509.4" font-size="9" fill="#3a3010" font-weight="bold" stroke="#3a3010" stroke-width="0.3" textLength="32.7" lengthAdjust="spacing">SPAIN</text>
<text x="172" y="497.5" font-size="6.75" fill="#4a4a4a" stroke="#4a4a4a" stroke-width="0.15" textLength="37" lengthAdjust="spacingAndGlyphs">PORTUGAL</text>
<text x="206" y="573" font-size="6.38" fill="#4a4a4a" stroke="#4a4a4a" stroke-width="0.15" textLength="34" lengthAdjust="spacingAndGlyphs">MOROCCO</text>
<text x="282.4" y="570.6" font-size="9.32" fill="#222" stroke="#222" stroke-width="0.3" textLength="40.4" lengthAdjust="spacingAndGlyphs">ALGERIA</text>
<text x="353.2" y="569.3" font-size="7.4" fill="#333" stroke="#333" stroke-width="0.12" textLength="29.2" lengthAdjust="spacingAndGlyphs">TUNISIA</text>
<text x="409.5" y="567.8" font-size="3.14" fill="#4a4a4a" textLength="10" lengthAdjust="spacingAndGlyphs">MALTA</text>
<text x="466" y="516.2" font-size="7.51" fill="#3a1208" opacity="0.8" stroke="#3a1208" stroke-width="0.15" textLength="31.7" lengthAdjust="spacingAndGlyphs">GREECE</text>
<text x="478.2" y="479.6" font-size="5.06" fill="#3a1208" transform="rotate(-5 478.2 479.6)" textLength="25.6" lengthAdjust="spacingAndGlyphs">BULGARIA</text>
<text x="465.9" y="442.4" font-size="7.71" fill="#2a0404" stroke="#2a0404" stroke-width="0.15" textLength="36" lengthAdjust="spacingAndGlyphs">ROMANIA</text>
<text x="423.5" y="440.8" font-size="5.52" fill="#2a0404" transform="rotate(-22 423.5 440.8)" stroke="#2a0404" stroke-width="0.15" textLength="27.5" lengthAdjust="spacingAndGlyphs">HUNGARY</text>
<text x="447.3" y="468.3" font-size="4.47" fill="#2a0404" textLength="16.4" lengthAdjust="spacingAndGlyphs">SERBIA</text>
<text x="411.9" y="454.5" font-size="3.5" fill="#2a0404" textLength="15.3" lengthAdjust="spacingAndGlyphs">CROATIA</text>
<text x="389" y="436" font-size="3.46" fill="#300" transform="rotate(-18 389 436)" textLength="15" lengthAdjust="spacingAndGlyphs">AUSTRIA</text>
<text x="394" y="407.5" font-size="3.87" fill="#300" textLength="17" lengthAdjust="spacingAndGlyphs">CZECHIA</text>
<text x="425" y="419.5" font-size="3.9" fill="#300" transform="rotate(-20 425 419.5)" textLength="19" lengthAdjust="spacingAndGlyphs">SLOVAKIA</text>
<text x="341" y="442.5" font-size="3.25" fill="#300" textLength="11" lengthAdjust="spacingAndGlyphs">SWITZ.</text>
<text x="394" y="449.5" font-size="2.0" fill="#300" opacity="0.7" textLength="10" lengthAdjust="spacingAndGlyphs">SLOVENIA</text>
<text x="562" y="504" font-size="11.83" fill="#222" transform="rotate(-15.5 562 504)" stroke="#222" stroke-width="0.3" textLength="48" lengthAdjust="spacingAndGlyphs">TURKEY</text>
<text x="631.5" y="433.5" font-size="5.68" fill="#4a4a4a" transform="rotate(-11 631.5 433.5)" stroke="#4a4a4a" stroke-width="0.15" textLength="26.5" lengthAdjust="spacingAndGlyphs">GEORGIA</text>
<text x="669.5" y="433.6" font-size="4.62" fill="#4a4a4a" textLength="28.5" lengthAdjust="spacingAndGlyphs">AZERBAIJAN</text>
<text x="653.5" y="439.5" font-size="3.29" fill="#4a4a4a" transform="rotate(20 653.5 439.5)" textLength="15" lengthAdjust="spacingAndGlyphs">ARMENIA</text>
<text x="697" y="480.2" font-size="8.54" fill="#333" stroke="#333" stroke-width="0.12" textLength="20.4" lengthAdjust="spacingAndGlyphs">IRAN</text>
<text x="672.8" y="530.7" font-size="8.26" fill="#333" stroke="#333" stroke-width="0.12" textLength="20.2" lengthAdjust="spacingAndGlyphs">IRAQ</text>
<text x="614.6" y="530.4" font-size="8.86" fill="#333" stroke="#333" stroke-width="0.12" textLength="26.6" lengthAdjust="spacingAndGlyphs">SYRIA</text>
<text x="650.5" y="570.8" font-size="7.63" fill="#333" stroke="#333" stroke-width="0.12" textLength="53" lengthAdjust="spacingAndGlyphs">SAUDI ARABIA</text>
<text x="620.3" y="567.6" font-size="4.01" fill="#4a4a4a" transform="rotate(-21 620.3 567.6)" textLength="16.5" lengthAdjust="spacingAndGlyphs">JORDAN</text>
<text x="596.4" y="546.2" font-size="3.98" fill="#4a4a4a" textLength="19" lengthAdjust="spacingAndGlyphs">LEBANON</text>
<text x="595.7" y="568.2" font-size="2.9" fill="#4a4a4a" textLength="10.3" lengthAdjust="spacingAndGlyphs">ISRAEL</text>
<text x="557" y="554.8" font-size="3.84" fill="#4a4a4a" textLength="16" lengthAdjust="spacingAndGlyphs">CYPRUS</text>
<text x="339" y="484.3" font-size="2.78" fill="#4a4a4a" textLength="12.5" lengthAdjust="spacingAndGlyphs">MONACO</text>
<text x="384" y="478.3" font-size="3.63" fill="#4a4a4a" textLength="23" lengthAdjust="spacingAndGlyphs">SAN MARINO</text>
<text x="390" y="503.2" font-size="3.41" fill="#400" textLength="23" lengthAdjust="spacingAndGlyphs">VATICAN CITY</text>
<text x="421.8" y="467.8" font-size="2.25" fill="#4a4a4a" textLength="10.5" lengthAdjust="spacingAndGlyphs">BOSNIA &amp;</text>
<text x="423.5" y="470.2" font-size="2.33" fill="#4a4a4a" textLength="7" lengthAdjust="spacingAndGlyphs">HERZ.</text>
<text x="452.8" y="484.6" font-size="1.5" fill="#4a4a4a" textLength="6.5" lengthAdjust="spacingAndGlyphs">KOSOVO</text>
<text x="460" y="494.5" font-size="1.98" fill="#4a4a4a" transform="rotate(-20 460 494.5)" textLength="7" lengthAdjust="spacingAndGlyphs">NORTH</text>
<text x="459.5" y="497.6" font-size="1.98" fill="#4a4a4a" transform="rotate(-20 459.5 497.6)" textLength="12" lengthAdjust="spacingAndGlyphs">MACEDONIA</text>
<text x="451.2" y="506" font-size="2.13" fill="#4a4a4a" transform="rotate(-80 451.2 506)" textLength="9" lengthAdjust="spacingAndGlyphs">ALBANIA</text>
<text x="437.5" y="483.8" font-size="1.31" fill="#4a4a4a" transform="rotate(25 437.5 483.8)" textLength="9.5" lengthAdjust="spacingAndGlyphs">MONTENEGRO</text>
<text x="664" y="569.2" font-size="4.6" fill="#333" opacity="0.7" textLength="42" lengthAdjust="spacing">SAUDI ARABIA</text>
<text x="495.5" y="411.5" font-size="3.45" fill="#4a4a4a" transform="rotate(45 495.5 411.5)" textLength="17" lengthAdjust="spacingAndGlyphs">MOLDOVA</text>
<g font-weight="bold" fill="#1f4a8c" font-size="19.6">
<text x="28" y="110.9" textLength="257" lengthAdjust="spacingAndGlyphs">YoY % change in day-ahead</text>
<text x="28" y="133.4" textLength="139" lengthAdjust="spacingAndGlyphs">electricity price</text>
<text x="28" y="155.9" textLength="238" lengthAdjust="spacingAndGlyphs">(Aug 01,2021-Aug 01,2022)</text>
</g>
<rect x="29.5" y="165.2" width="25.5" height="25.5" fill="#800026" stroke="#3a2a2a" stroke-width="0.9"/>
<text x="73.2" y="184.0" font-size="20.8" fill="#33599b" textLength="62.4" lengthAdjust="spacingAndGlyphs">&gt;500%</text>
<rect x="29.5" y="200.6" width="25.5" height="25.5" fill="#bd0026" stroke="#3a2a2a" stroke-width="0.9"/>
<text x="73.2" y="219.4" font-size="20.8" fill="#33599b" textLength="92.6" lengthAdjust="spacingAndGlyphs">400-499%</text>
<rect x="29.5" y="236.1" width="25.5" height="25.5" fill="#e31a1c" stroke="#3a2a2a" stroke-width="0.9"/>
<text x="73.2" y="254.9" font-size="20.8" fill="#33599b" textLength="92.6" lengthAdjust="spacingAndGlyphs">300-399%</text>
<rect x="29.5" y="271.6" width="25.5" height="25.5" fill="#fc4e2a" stroke="#3a2a2a" stroke-width="0.9"/>
<text x="73.2" y="290.4" font-size="20.8" fill="#33599b" textLength="92.6" lengthAdjust="spacingAndGlyphs">200-299%</text>
<rect x="29.5" y="307.0" width="25.5" height="25.5" fill="#fd8d3c" stroke="#3a2a2a" stroke-width="0.9"/>
<text x="73.2" y="325.8" font-size="20.8" fill="#33599b" textLength="92.6" lengthAdjust="spacingAndGlyphs">100-199%</text>
<rect x="29.5" y="342.4" width="25.5" height="25.5" fill="#fed976" stroke="#3a2a2a" stroke-width="0.9"/>
<text x="73.2" y="361.2" font-size="20.8" fill="#33599b" textLength="68.6" lengthAdjust="spacingAndGlyphs">0-100%</text>
</g>
<g fill="none" stroke-linecap="butt">
<path d="M36,84 L711,84" stroke="#c3ccd4" stroke-width="2.2" opacity="0.9"/>
<path d="M20,101 A16,16 0 0 1 36,84" stroke="#c3ccd4" stroke-width="1.8" opacity="0.45"/>
<path d="M711,84 A14,14 0 0 1 725,98" stroke="#c0c6cc" stroke-width="2" opacity="0.75"/>
<path d="M725,98 L725,559" stroke="#b4b7ba" stroke-width="2"/>
<path d="M725,559 A16,16 0 0 1 709,575" stroke="#c6c9cc" stroke-width="1.6"/>
<path d="M35,575 L709,575" stroke="#c9d0d6" stroke-width="1" opacity="0.7"/>
<path d="M19.5,100 L19.5,560" stroke="#b5cbe0" stroke-width="1" opacity="0.8"/>
</g>
</svg>
</div>
<div class="foot">7:30 PM · 4 sept. 2022 · Twitter Web App</div>
</body></html>
